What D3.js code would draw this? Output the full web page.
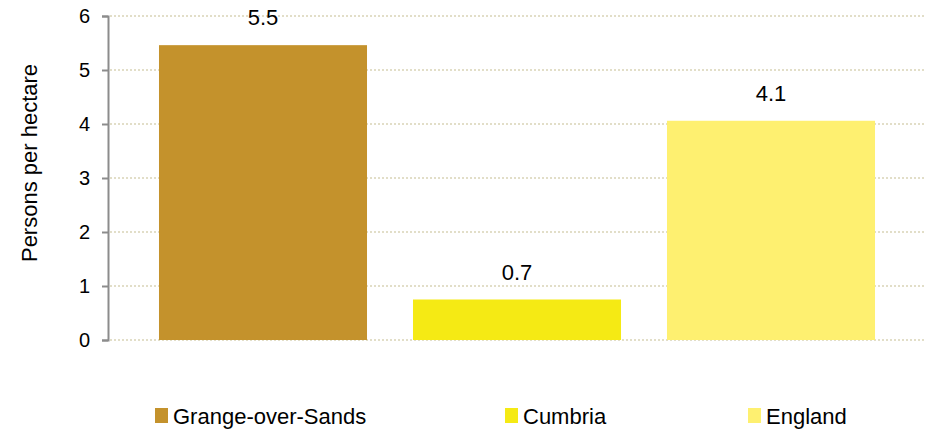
<!DOCTYPE html>
<html>
<head>
<meta charset="utf-8">
<script src="https://cdn.jsdelivr.net/npm/d3@7"></script>
<style>
  html, body { margin: 0; padding: 0; background: #ffffff; }
  svg { display: block; font-family: "Liberation Sans", Arial, sans-serif; }
</style>
</head>
<body>
<svg id="chart" width="926" height="430"></svg>
<script>
const categories = ["Grange-over-Sands", "Cumbria", "England"];
const values = [5.46, 0.75, 4.06];
const valueLabels = ["5.5", "0.7", "4.1"];
const colors = ["#C4922C", "#F5EA14", "#FEF070"];
const yTicks = [0, 1, 2, 3, 4, 5, 6];
const yTitle = "Persons per hectare";

const svg = d3.select("#chart");

const x = d3.scaleBand()
  .domain(categories)
  .range([136, 898])
  .paddingInner(0.181)
  .paddingOuter(0.0905);

const y = d3.scaleLinear().domain([0, 6]).range([340, 16]);

// gridlines
svg.append("g")
  .selectAll("line")
  .data(yTicks)
  .join("line")
  .attr("x1", 110)
  .attr("x2", 925)
  .attr("y1", d => y(d))
  .attr("y2", d => y(d))
  .attr("stroke", "#d9d3b6")
  .attr("stroke-width", 1.5)
  .attr("stroke-dasharray", "2,2");

// bars
svg.append("g")
  .selectAll("rect")
  .data(categories)
  .join("rect")
  .attr("x", d => x(d))
  .attr("width", x.bandwidth())
  .attr("y", (d, i) => y(values[i]))
  .attr("height", (d, i) => y(0) - y(values[i]))
  .attr("fill", (d, i) => colors[i]);

// value labels
svg.append("g")
  .selectAll("text")
  .data(categories)
  .join("text")
  .attr("x", d => x(d) + x.bandwidth() / 2)
  .attr("y", (d, i) => y(values[i]) - 20)
  .attr("text-anchor", "middle")
  .attr("font-size", 22)
  .attr("fill", "#000")
  .text((d, i) => valueLabels[i]);

// y axis
const yAxis = d3.axisLeft(y).tickValues(yTicks).tickSize(6).tickPadding(12).tickFormat(d3.format("d"));
const gy = svg.append("g").attr("transform", "translate(108,0)").call(yAxis);
gy.select(".domain").attr("stroke", "#8c8c8c").attr("stroke-width", 2);
gy.selectAll(".tick line").attr("stroke", "#8c8c8c").attr("stroke-width", 2);
gy.selectAll(".tick text").attr("font-size", 20).attr("fill", "#000")
  .attr("font-family", "'Liberation Sans', Arial, sans-serif");

// y title
svg.append("text")
  .attr("transform", "translate(37,163) rotate(-90)")
  .attr("text-anchor", "middle")
  .attr("font-size", 22)
  .attr("fill", "#000")
  .text(yTitle);

// legend
const legendX = [155, 505, 748];
const lg = svg.append("g")
  .selectAll("g")
  .data(categories)
  .join("g")
  .attr("transform", (d, i) => `translate(${legendX[i]},408)`);
lg.append("rect")
  .attr("width", 13)
  .attr("height", 15)
  .attr("fill", (d, i) => colors[i]);
lg.append("text")
  .attr("x", 18)
  .attr("y", 16)
  .attr("font-size", 22)
  .attr("fill", "#000")
  .text(d => d);
</script>
</body>
</html>
